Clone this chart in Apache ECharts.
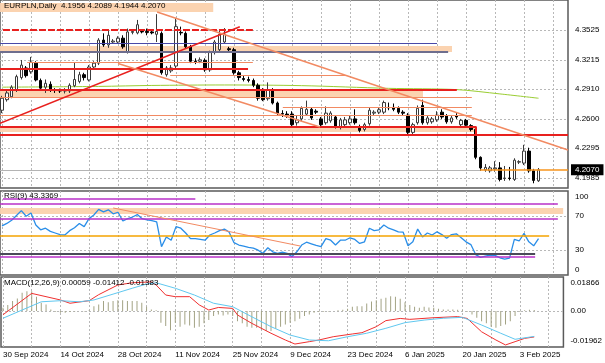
<!DOCTYPE html>
<html><head><meta charset="utf-8">
<script src="https://cdn.jsdelivr.net/npm/echarts@6/dist/echarts.min.js"></script>
<style>html,body{margin:0;padding:0;background:#fff}#c{width:605px;height:363px}</style>
</head><body><div id="c"></div>
<script>
// ---- axis labels / ticks (x = bar index, bar 0 = 30 Sep 2024) ----
const dateLabels = ['30 Sep 2024','14 Oct 2024','28 Oct 2024','11 Nov 2024','25 Nov 2024','9 Dec 2024','23 Dec 2024','6 Jan 2025','20 Jan 2025','3 Feb 2025'];
const dateLabelBars = [0,12,24,36,48,60,72,84,96,108];
const weekBars = [0,6,12,18,24,30,36,42,48,54,60,66,72,78,84,90,96,102,108,114];
const priceTicks = [4.1985,4.2295,4.2600,4.2910,4.3215,4.3525];
const rsiTicks = [0,30,70,100];
const rsiGridTicks = [30,70];
const macdTicks = [-0.01962,0,0.01866];
const macdGridTicks = [0];

// ---- candles ----
const opens = [4.2690,4.2800,4.2830,4.2900,4.3030,4.3130,4.3090,4.3180,4.3000,4.2930,
4.2960,4.2905,4.2895,4.2890,4.2890,4.2945,4.2990,4.3060,4.3005,4.3140,
4.3180,4.3420,4.3370,4.3400,4.3400,4.3440,4.3300,4.3500,4.3495,4.3510,
4.3510,4.3505,4.3480,4.3490,4.3060,4.3100,4.3150,4.3500,4.3490,4.3350,
4.3200,4.3200,4.3210,4.3110,4.3290,4.3320,4.3400,4.3330,4.3320,4.3080,
4.3020,4.3010,4.3000,4.2950,4.2900,4.2810,4.2900,4.2765,4.2655,4.2650,
4.2650,4.2560,4.2600,4.2650,4.2700,4.2680,4.2600,4.2560,4.2580,4.2620,
4.2510,4.2540,4.2560,4.2600,4.2520,4.2490,4.2550,4.2660,4.2670,4.2670,
4.2720,4.2720,4.2710,4.2670,4.2640,4.2460,4.2560,4.2740,4.2560,4.2570,
4.2590,4.2670,4.2630,4.2570,4.2630,4.2540,4.2585,4.2530,4.2490,4.2200,
4.2070,4.2060,4.2080,4.2090,4.1980,4.1985,4.1970,4.2150,4.2140,4.2265,
4.2060,4.1956];
const closes = [4.2815,4.2870,4.2930,4.3040,4.3160,4.3050,4.3190,4.3005,4.2920,4.2970,
4.2910,4.2895,4.2890,4.2900,4.2950,4.3010,4.3060,4.3030,4.3140,4.3180,
4.3420,4.3370,4.3470,4.3410,4.3440,4.3350,4.3505,4.3510,4.3580,4.3505,
4.3500,4.3495,4.3510,4.3080,4.3130,4.3130,4.3560,4.3495,4.3350,4.3200,
4.3195,4.3215,4.3110,4.3290,4.3400,4.3480,4.3480,4.3320,4.3080,4.3030,
4.3010,4.3000,4.2950,4.2815,4.2800,4.2900,4.2765,4.2660,4.2650,4.2640,
4.2540,4.2590,4.2710,4.2700,4.2610,4.2670,4.2540,4.2660,4.2660,4.2520,
4.2590,4.2590,4.2600,4.2560,4.2480,4.2540,4.2690,4.2670,4.2695,4.2770,
4.2715,4.2700,4.2670,4.2660,4.2460,4.2540,4.2710,4.2560,4.2610,4.2600,
4.2640,4.2620,4.2570,4.2610,4.2620,4.2585,4.2535,4.2490,4.2200,4.2090,
4.2095,4.2090,4.2090,4.1970,4.1985,4.1980,4.2170,4.2155,4.2265,4.2060,
4.1960,4.2070];
const lows = [4.2660,4.2780,4.2815,4.2880,4.3010,4.3030,4.3070,4.2990,4.2900,4.2870,
4.2880,4.2870,4.2870,4.2865,4.2870,4.2930,4.2970,4.3000,4.2990,4.3120,
4.3160,4.3350,4.3340,4.3390,4.3380,4.3330,4.3280,4.3480,4.3480,4.3490,
4.3470,4.3480,4.3400,4.3060,4.3040,4.3080,4.3130,4.3470,4.3330,4.3180,
4.3170,4.3180,4.3090,4.3090,4.3270,4.3300,4.3380,4.3290,4.3060,4.3000,
4.2990,4.2980,4.2930,4.2790,4.2785,4.2790,4.2750,4.2640,4.2620,4.2610,
4.2520,4.2530,4.2580,4.2630,4.2590,4.2650,4.2520,4.2540,4.2560,4.2500,
4.2490,4.2520,4.2540,4.2540,4.2460,4.2470,4.2530,4.2640,4.2650,4.2650,
4.2690,4.2680,4.2650,4.2640,4.2440,4.2440,4.2540,4.2540,4.2540,4.2550,
4.2570,4.2600,4.2550,4.2550,4.2600,4.2520,4.2515,4.2470,4.2180,4.2060,
4.2050,4.2040,4.2050,4.1950,4.1955,4.1960,4.1955,4.2130,4.2120,4.2040,
4.1930,4.1944];
const highs = [4.2840,4.2890,4.2950,4.3060,4.3213,4.3150,4.3245,4.3200,4.3020,4.3010,
4.2990,4.2920,4.2915,4.2920,4.2970,4.3190,4.3090,4.3080,4.3160,4.3200,
4.3440,4.3490,4.3525,4.3430,4.3460,4.3470,4.3540,4.3530,4.3630,4.3530,
4.3540,4.3530,4.3690,4.3510,4.3150,4.3160,4.3650,4.3560,4.3510,4.3370,
4.3230,4.3240,4.3230,4.3310,4.3420,4.3520,4.3545,4.3350,4.3340,4.3100,
4.3050,4.3040,4.3020,4.2970,4.2920,4.2980,4.2920,4.2780,4.2690,4.2680,
4.2680,4.2630,4.2730,4.2790,4.2720,4.2700,4.2620,4.2730,4.2680,4.2640,
4.2610,4.2620,4.2640,4.2700,4.2540,4.2560,4.2720,4.2690,4.2720,4.2790,
4.2770,4.2760,4.2730,4.2690,4.2660,4.2560,4.2740,4.2800,4.2630,4.2620,
4.2680,4.2700,4.2650,4.2640,4.2660,4.2600,4.2600,4.2545,4.2500,4.2210,
4.2130,4.2110,4.2160,4.2150,4.2110,4.2100,4.2190,4.2170,4.2330,4.2300,
4.2080,4.2089];

// moving average (read at a few bars)
const maPoints = [[0,4.2930],[20,4.2938],[31,4.2948],[46,4.2953],[62,4.2946],[80,4.2918],[94,4.2905],[103,4.2860],[111,4.2815]];

// ---- RSI(9) ----
const rsi = [58.5,61.4,65.2,70.9,76.6,70.0,73.8,59.5,53.8,55.7,
51.9,50.0,48.1,47.6,52.8,56.2,61.4,57.6,67.1,71.4,
78.1,75.2,77.6,72.8,74.7,64.3,67.1,69.0,71.9,67.1,
65.7,64.7,63.3,33.8,45.2,41.4,57.6,55.7,50.0,43.3,
43.3,42.4,41.4,47.6,50.0,52.8,54.7,51.0,38.5,35.7,
34.3,32.8,31.9,29.5,25.7,32.4,27.6,25.7,27.1,25.7,
21.9,27.6,35.7,39.0,37.1,35.2,33.8,43.3,41.4,35.7,
41.4,41.4,44.3,42.4,37.6,39.5,55.7,52.8,53.8,59.5,
55.7,53.8,51.4,51.0,34.8,39.5,54.7,45.2,50.0,47.6,
51.4,48.1,43.8,48.1,49.0,44.3,39.5,36.2,24.3,21.0,
22.4,23.8,23.3,20.5,19.0,20.0,42.4,40.5,49.5,39.5,
34.8,43.34];

// ---- MACD(12,26,9) ----
const macdLine = [[0,-0.0020],[6,0.0097],[12,0.0061],[14,0.0043],[18,0.0057],[20,0.0090],[24,0.0143],[27,0.0155],[31,0.0160],[32,0.0143],[34,0.0088],[36,0.0079],[39,0.0079],[41,0.0034],[43,0.0006],[45,0.0020],[48,0.0015],[49,-0.0021],[52,-0.0067],[56,-0.0121],[59,-0.0158],[61,-0.0180],[64,-0.0167],[66,-0.0158],[69,-0.0140],[73,-0.0125],[75,-0.0118],[78,-0.0085],[80,-0.0052],[83,-0.0040],[85,-0.0045],[90,-0.0036],[95,-0.0030],[97,-0.0040],[100,-0.0113],[103,-0.0158],[105,-0.0185],[107,-0.0167],[109,-0.0149],[111,-0.01412]];
const signalLine = [[0,-0.0039],[4,0.0006],[8,0.0051],[12,0.0057],[16,0.0051],[19,0.0061],[23,0.0093],[27,0.0125],[30,0.0148],[32,0.0155],[36,0.0125],[40,0.0088],[44,0.0043],[48,0.0024],[52,-0.0031],[56,-0.0085],[60,-0.0131],[64,-0.0158],[68,-0.0162],[72,-0.0140],[76,-0.0121],[80,-0.0094],[84,-0.0063],[88,-0.0049],[92,-0.0039],[96,-0.0034],[100,-0.0076],[104,-0.0121],[107,-0.0154],[111,-0.01383]];
const macdHist = [0.0018,0.0033,0.0055,0.0069,0.0100,0.0109,0.0109,0.0078,0.0046,0.0036,
0.0009,-0.0004,-0.0009,-0.0009,-0.0005,-0.0002,0.0000,-0.0002,0.0005,0.0027,
0.0036,0.0055,0.0049,0.0055,0.0060,0.0060,0.0055,0.0055,0.0055,0.0046,
0.0024,0.0009,0.0005,-0.0064,-0.0082,-0.0104,-0.0064,-0.0086,-0.0073,-0.0078,
-0.0091,-0.0086,-0.0067,-0.0049,-0.0027,-0.0018,-0.0024,-0.0018,-0.0027,-0.0055,
-0.0067,-0.0086,-0.0091,-0.0091,-0.0100,-0.0109,-0.0109,-0.0096,-0.0086,-0.0073,
-0.0064,-0.0055,-0.0042,-0.0027,-0.0018,-0.0009,-0.0005,-0.0004,-0.0002,0.0000,
0.0005,0.0007,0.0013,0.0024,0.0027,0.0027,0.0042,0.0053,0.0060,0.0067,
0.0073,0.0082,0.0078,0.0067,0.0049,0.0033,0.0024,0.0018,0.0024,0.0020,
0.0018,0.0013,0.0009,0.0009,0.0009,0.0007,0.0005,-0.0004,-0.0018,-0.0036,
-0.0055,-0.0067,-0.0086,-0.0091,-0.0082,-0.0073,-0.0055,-0.0027,-0.0005,0.0005,
0.0007,0.00059];

// ---- chart objects: [price, fromBar, toBar] ----
const redDashLevels = [[4.3532,0.2,51.9]];
const navyLevels = [[4.3387,-0.4,90]];
const slateLevels = [[4.3299,-0.4,92.3]];
const redLevels = [[4.3126,-0.4,50.9],[4.2908,-0.4,94.1],[4.2521,-0.4,98.1],[4.2438,-0.4,117.1]];
const salmonLevels = [[4.3189,5.2,51.9],[4.3057,34.8,71.4],[4.2821,-0.4,97.2],[4.2721,58.1,97.2],[4.2641,-0.4,97.2]];
const grayLevels = [[4.2068,-0.4,98.9]];
const bidLevels = [[4.2070,98.9,117.1]];
// [priceTop, priceBottom, fromBar, toBar]
const peachZones = [[4.3359,4.3296,-0.4,93.1],[4.2890,4.2825,-0.4,87.1],[4.2515,4.2464,-0.4,98.1],[4.3806,4.3712,-0.4,43.7]];
// [[bar, price],[bar, price]]
const redTrends = [[[-0.4,4.2554],[49.2,4.3559]]];
const salmonTrends = [[[32.1,4.3712],[117.1,4.2276]],[[24,4.3176],[65.8,4.2515]]];
const redVerticals = [[98.1,4.2521,4.2438]];
// RSI objects: [level, fromBar, toBar]
const rsiMagentaLevels = [[90.5,0.2,40],[84.5,-0.4,115],[67,-0.4,115],[21.4,-0.4,110.3]];
const rsiOrangeLevels = [[46.4,-0.4,113.2]];
const rsiGrayLevels = [[25,-0.4,110.3]];
const rsiPeachZones = [[79.8,72.6,-0.4,116.1]];
const rsiTrends = [[[23,79.8],[61.7,34.5]]];

// ---------------- build ----------------
const FONT = 'Liberation Sans';
const XMIN = -0.414, XMAX = 117.1;
const C = {red:'#e8201e', salmon:'#f28a62', peach:'#fbd3b0', navy:'#4848a8', slate:'#6e6e8e',
  green:'#9acd32', magenta:'#b830c8', orange:'#f5a300', dgray:'#4a4a58', gray:'#b4b4b4', bid:'#f7941d'};

function hl(list, style){ return list.map(d => [{coord:[d[1],d[0]], lineStyle:style},{coord:[d[2],d[0]]}]); }
function tl(list, style){ return list.map(d => [{coord:d[0], lineStyle:style},{coord:d[1]}]); }
function zones(list, color){ return list.map(d => [{coord:[d[2],d[0]], itemStyle:{color}},{coord:[d[3],d[1]]}]); }

const mainLines = [].concat(
  hl(redDashLevels,{color:C.red,width:2,type:[7,2]}),
  hl(navyLevels,{color:C.navy,width:1,type:'solid'}),
  hl(slateLevels,{color:C.slate,width:2,type:'solid'}),
  hl(redLevels,{color:C.red,width:2,type:'solid'}),
  hl(salmonLevels,{color:C.salmon,width:1,type:'solid'}),
  hl(grayLevels,{color:C.gray,width:1,type:'solid'}),
  tl(redTrends,{color:C.red,width:1.5,type:'solid'}),
  tl(salmonTrends,{color:C.salmon,width:1.5,type:'solid'}),
  redVerticals.map(d => [{coord:[d[0],d[1]], lineStyle:{color:C.red,width:2,type:'solid'}},{coord:[d[0],d[2]]}]),
  bidLevels.map(d => [{coord:[d[1],d[0]], lineStyle:{color:C.bid,width:1.5,type:'solid'},
     label:{show:true, position:'end', formatter: d[0].toFixed(4), color:'#fff', backgroundColor:'#000',
       padding:[2,4,1,4], distance:3, fontSize:8, fontFamily:FONT}}, {coord:[d[2],d[0]]}])
);
const rsiLines = [].concat(
  hl(rsiMagentaLevels,{color:C.magenta,width:1.5,type:'solid'}),
  hl(rsiOrangeLevels,{color:C.orange,width:1.5,type:'solid'}),
  hl(rsiGrayLevels,{color:C.dgray,width:2,type:'solid'}),
  tl(rsiTrends,{color:C.salmon,width:1,type:'solid'})
);

const mk = (data) => ({symbol:['none','none'], silent:true, animation:false, label:{show:false}, emphasis:{disabled:true}, data});
const dotted = {color:'#b8b8b8', type:[2,2], width:1};
const lbl = {fontSize:8, fontFamily:FONT, color:'#000'};

const grids = [
  {left:0, right:37, top:0, height:188},
  {left:0, right:37, top:191, height:84},
  {left:0, right:37, top:277, height:70}
].map(g => Object.assign(g, {show:true, borderColor:'#5a5a5a', borderWidth:1.5, backgroundColor:'#fff'}));

const xAxes = [0,1,2].map(k => ({
  type:'value', gridIndex:k, min:XMIN, max:XMAX,
  axisLine:{show:false},
  axisTick:{show:false, customValues:weekBars},
  splitLine:{show:true, lineStyle:dotted},
  axisLabel: k===2 ? Object.assign({show:true, customValues:dateLabelBars, align:'left', margin:4,
      formatter: v => dateLabels[dateLabelBars.indexOf(Math.round(v))] || ''}, lbl) : {show:false}
}));

const yMain = {type:'value', gridIndex:0, position:'right', min:4.18809, max:4.38372,
  axisLine:{show:false}, axisTick:{show:false, customValues:priceTicks},
  splitLine:{show:true, lineStyle:dotted},
  axisLabel:Object.assign({customValues:priceTicks, margin:7, formatter: v => v.toFixed(4)}, lbl)};
const yRsi = {type:'value', gridIndex:1, position:'right', min:0, max:100,
  axisLine:{show:false}, axisTick:{show:false, customValues:rsiGridTicks},
  splitLine:{show:true, lineStyle:dotted},
  axisLabel:Object.assign({customValues:rsiTicks, margin:7,
    formatter: v => v===100 ? '{t|100}' : (v===0 ? '{b|0}' : String(v)),
    rich:{t:{padding:[12,0,0,0], fontSize:8, fontFamily:FONT, color:'#000'}, b:{padding:[0,0,10,0], fontSize:8, fontFamily:FONT, color:'#000'}}}, lbl)};
const yMacd = {type:'value', gridIndex:2, position:'right', min:macdTicks[0], max:macdTicks[2],
  axisLine:{show:false}, axisTick:{show:false, customValues:macdGridTicks},
  splitLine:{show:true, lineStyle:dotted},
  axisLabel:Object.assign({customValues:macdTicks, margin:7,
    formatter: v => v===macdTicks[2] ? '{t|'+v.toFixed(5)+'}' : (v===macdTicks[0] ? '{b|'+v.toFixed(5)+'}' : '0.00'),
    rich:{t:{padding:[12,0,0,0], fontSize:8, fontFamily:FONT, color:'#000'}, b:{padding:[0,0,12,0], fontSize:8, fontFamily:FONT, color:'#000'}}}, lbl)};

const candleData = opens.map((o,i) => [i, o, closes[i], lows[i], highs[i]]);

const option = {
  animation:false,
  backgroundColor:'#fff',
  textStyle:{fontFamily:FONT},
  title:[
    {text:'EURPLN,Daily  4.1956 4.2089 4.1944 4.2070', left:4, top:2, padding:0, textStyle:Object.assign({fontWeight:'normal'}, lbl)},
    {text:'RSI(9) 43.3369', left:4, top:192, padding:0, textStyle:Object.assign({fontWeight:'normal'}, lbl)},
    {text:'MACD(12,26,9) 0.00059 -0.01412 -0.01383', left:4, top:279, padding:0, textStyle:Object.assign({fontWeight:'normal'}, lbl)}
  ],
  grid:grids,
  xAxis:xAxes,
  yAxis:[yMain, yRsi, yMacd],
  series:[
    {type:'line', name:'objects', xAxisIndex:0, yAxisIndex:0, data:[], z:1,
     markArea:{silent:true, animation:false, label:{show:false}, data:zones(peachZones, C.peach)},
     markLine:mk(mainLines)},
    {type:'line', name:'MA', xAxisIndex:0, yAxisIndex:0, data:maPoints, smooth:0.3, symbol:'none', z:2,
     lineStyle:{color:C.green, width:1}},
    {type:'candlestick', name:'EURPLN', xAxisIndex:0, yAxisIndex:0, data:candleData, z:3,
     encode:{x:0, y:[1,2,3,4]}, barWidth:3,
     itemStyle:{color:'#ffffff', color0:'#000000', borderColor:'#3a3a3a', borderColor0:'#000000', borderWidth:1}},
    {type:'line', name:'rsiZones', xAxisIndex:1, yAxisIndex:1, data:[], z:1,
     markArea:{silent:true, animation:false, label:{show:false}, data:zones(rsiPeachZones, C.peach)}},
    {type:'line', name:'RSI', xAxisIndex:1, yAxisIndex:1, data:rsi.map((v,i)=>[i,v]), symbol:'none', z:3,
     lineStyle:{color:'#2a8ee8', width:1.3}, markLine:mk(rsiLines)},
    {type:'bar', name:'hist', xAxisIndex:2, yAxisIndex:2, data:macdHist.map((v,i)=>[i,v]), barWidth:1,
     itemStyle:{color:'#a3a384'}, z:2},
    {type:'line', name:'MACD', xAxisIndex:2, yAxisIndex:2, data:macdLine, symbol:'none', z:3,
     lineStyle:{color:'#f03030', width:1}},
    {type:'line', name:'Signal', xAxisIndex:2, yAxisIndex:2, data:signalLine, symbol:'none', z:3,
     lineStyle:{color:'#60c8f0', width:1}}
  ]
};
const chart = echarts.init(document.getElementById('c'), null, {renderer:'canvas'});
chart.setOption(option);
</script>
</body></html>
